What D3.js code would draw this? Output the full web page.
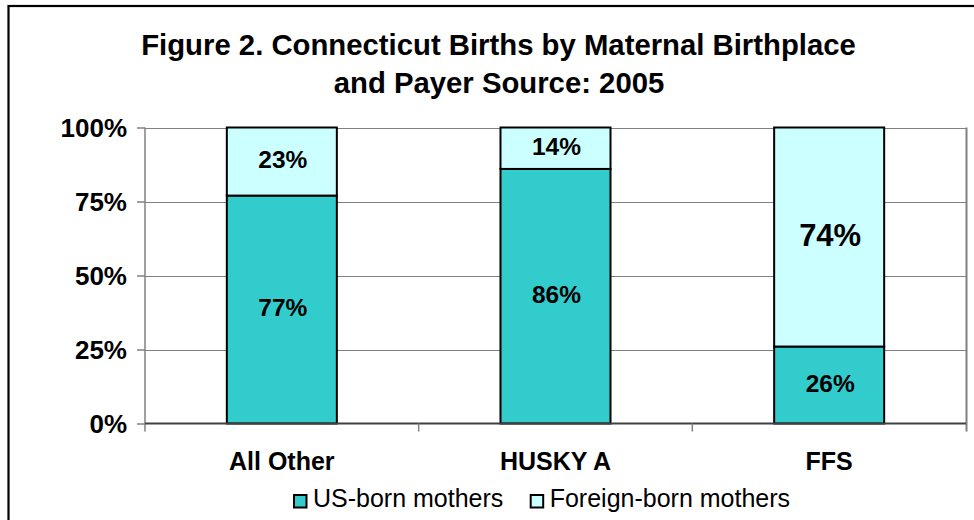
<!DOCTYPE html>
<html>
<head>
<meta charset="utf-8">
<script src="https://cdn.jsdelivr.net/npm/d3@7"></script>
<style>
  body { margin: 0; background: #fff; }
  svg { display: block; font-family: "Liberation Sans", Arial, sans-serif; }
</style>
</head>
<body>
<div id="container"></div>
<script>
// chart data
const categories = ['All Other', 'HUSKY A', 'FFS'];
const usBorn = [77, 86, 26];
const foreignBorn = [23, 14, 74];
const seriesNames = ['US-born mothers', 'Foreign-born mothers'];
const seriesColors = ['#33CCCC', '#CCFFFF'];
const yTicks = [0, 25, 50, 75, 100];

const width = 974;
const height = 520;
const plot = { left: 145, right: 966, top: 127.5, bottom: 423.5 };

const svg = d3.select('#container')
  .append('svg')
  .attr('width', width)
  .attr('height', height);

svg.append('rect')
  .attr('width', width)
  .attr('height', height)
  .attr('fill', '#fff');

// outer frame (runs off the right and bottom edges)
svg.append('rect')
  .attr('x', 8.5)
  .attr('y', 6)
  .attr('width', width + 10)
  .attr('height', height + 10)
  .attr('fill', 'none')
  .attr('stroke', '#000')
  .attr('stroke-width', 2.2);

// title
const title = svg.append('text')
  .attr('text-anchor', 'middle')
  .attr('font-weight', 'bold')
  .attr('font-size', 29.3)
  .attr('fill', '#000');
title.append('tspan').attr('x', 498.5).attr('y', 55).text('Figure 2. Connecticut Births by Maternal Birthplace');
title.append('tspan').attr('x', 499).attr('y', 93).text('and Payer Source: 2005');

const x = d3.scaleBand()
  .domain(categories)
  .range([plot.left, plot.right]);

const y = d3.scaleLinear()
  .domain([0, 100])
  .range([plot.bottom, plot.top]);

const barW = x.bandwidth() * 0.402;

// gridlines
svg.append('g')
  .selectAll('line')
  .data(yTicks.filter(d => d > 0))
  .join('line')
  .attr('x1', plot.left)
  .attr('x2', plot.right)
  .attr('y1', d => Math.round(y(d)) + 0.5)
  .attr('y2', d => Math.round(y(d)) + 0.5)
  .attr('stroke', '#808080')
  .attr('stroke-width', 1.2);

// right edge of plot area
svg.append('line')
  .attr('x1', plot.right + 0.5)
  .attr('x2', plot.right + 0.5)
  .attr('y1', plot.top)
  .attr('y2', plot.bottom + 8)
  .attr('stroke', '#808080')
  .attr('stroke-width', 2);

// y axis
const yAxis = svg.append('g')
  .attr('transform', `translate(${plot.left},0)`)
  .call(d3.axisLeft(y).tickValues(yTicks).tickSize(8).tickFormat(d => d + '%'));
yAxis.select('.domain').remove();
yAxis.append('line')
  .attr('x1', 0).attr('x2', 0)
  .attr('y1', plot.top).attr('y2', plot.bottom + 8)
  .attr('stroke', '#808080')
  .attr('stroke-width', 1.5);
yAxis.selectAll('.tick line').attr('stroke', '#808080').attr('stroke-width', 1.5);
yAxis.selectAll('.tick text')
  .attr('x', -18)
  .attr('dy', '0.36em')
  .attr('fill', '#000')
  .attr('font-size', 26)
  .attr('font-weight', 'bold')
  .attr('font-family', '"Liberation Sans", Arial, sans-serif');

// stacked bars
const stacked = categories.map((c, i) => ({ cat: c, segs: [
  { y0: 0, y1: usBorn[i], v: usBorn[i], color: seriesColors[0], big: false },
  { y0: usBorn[i], y1: usBorn[i] + foreignBorn[i], v: foreignBorn[i], color: seriesColors[1], big: foreignBorn[i] > 50 }
] }));

const barG = svg.append('g')
  .selectAll('g')
  .data(stacked)
  .join('g')
  .attr('transform', d => `translate(${x(d.cat) + x.bandwidth() / 2 - barW / 2},0)`);

barG.selectAll('rect')
  .data(d => d.segs)
  .join('rect')
  .attr('x', 0)
  .attr('width', barW)
  .attr('y', d => y(d.y1))
  .attr('height', d => y(d.y0) - y(d.y1))
  .attr('fill', d => d.color)
  .attr('stroke', '#000')
  .attr('stroke-width', 2);

barG.selectAll('text')
  .data(d => d.segs)
  .join('text')
  .attr('x', barW / 2 + 1)
  .attr('y', d => (y(d.y0) + y(d.y1)) / 2 - 2)
  .attr('dy', '0.36em')
  .attr('text-anchor', 'middle')
  .attr('font-weight', 'bold')
  .attr('font-size', d => d.big ? 31 : 24.5)
  .attr('fill', '#000')
  .text(d => d.v + '%');

// x axis
const xAxis = svg.append('g')
  .attr('transform', `translate(0,${plot.bottom})`);
xAxis.append('line')
  .attr('x1', plot.left).attr('x2', plot.right)
  .attr('y1', 0).attr('y2', 0)
  .attr('stroke', '#404040')
  .attr('stroke-width', 2);
xAxis.selectAll('.sep')
  .data(categories.slice(1))
  .join('line')
  .attr('class', 'sep')
  .attr('x1', (d, i) => plot.left + x.step() * (i + 1))
  .attr('x2', (d, i) => plot.left + x.step() * (i + 1))
  .attr('y1', 0).attr('y2', 8)
  .attr('stroke', '#808080')
  .attr('stroke-width', 1.5);
xAxis.selectAll('.lbl')
  .data(categories)
  .join('text')
  .attr('class', 'lbl')
  .attr('x', d => x(d) + x.bandwidth() / 2)
  .attr('y', 46.5)
  .attr('text-anchor', 'middle')
  .attr('font-weight', 'bold')
  .attr('font-size', 25)
  .attr('fill', '#000')
  .text(d => d);

// legend
const legend = svg.append('g').attr('transform', 'translate(294,495)');
const legendX = [0, 236.7];
const item = legend.selectAll('g')
  .data(seriesNames)
  .join('g')
  .attr('transform', (d, i) => `translate(${legendX[i]},0)`);
item.append('rect')
  .attr('x', 0).attr('y', 0)
  .attr('width', 12.5).attr('height', 12.5)
  .attr('fill', (d, i) => seriesColors[i])
  .attr('stroke', '#000')
  .attr('stroke-width', 2);
item.append('text')
  .attr('x', 19)
  .attr('y', 11.7)
  .attr('font-size', 25)
  .attr('fill', '#000')
  .text(d => d);
</script>
</body>
</html>
